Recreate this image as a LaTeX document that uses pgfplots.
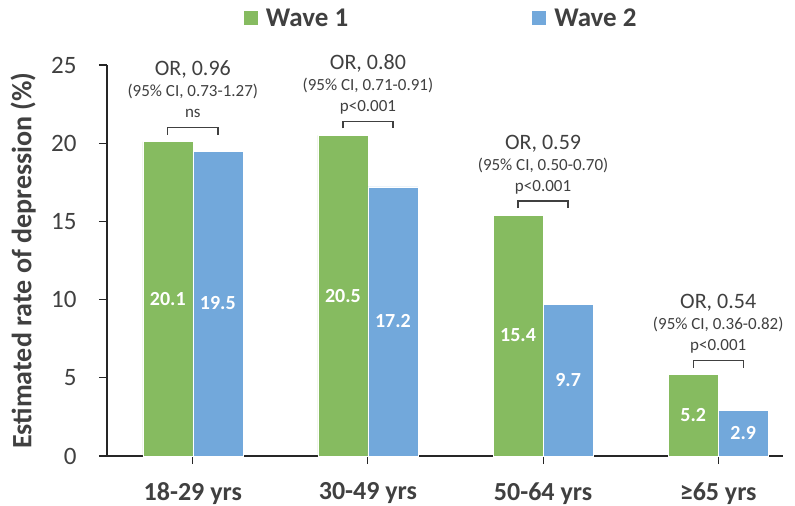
\documentclass[border=0pt]{standalone}
\usepackage{pgfplots}
\pgfplotsset{compat=1.18}
\usepackage{fontspec}
\setmainfont{Carlito}

\definecolor{wgreen}{HTML}{86BB60}
\definecolor{wblue}{HTML}{72A8DB}
\definecolor{txt}{HTML}{404040}

% bracket + three lines of text above a group: xl, xr, xc, green value, OR, CI, p
\newcommand{\annot}[7]{%
  \draw[txt, line width=1.3bp] ([yshift=7bp]axis cs:#1,#4) -- ([yshift=14bp]axis cs:#1,#4)
    -- ([yshift=14bp]axis cs:#2,#4) -- ([yshift=7bp]axis cs:#2,#4);
  \node[anchor=base, text=txt, inner sep=0pt, font=\fontsize{17bp}{17bp}\selectfont]
    at ([yshift=24bp]axis cs:#3,#4) {#7};
  \node[anchor=base, text=txt, inner sep=0pt, font=\fontsize{17bp}{17bp}\selectfont]
    at ([yshift=45bp]axis cs:#3,#4) {#6};
  \node[anchor=base, text=txt, inner sep=0pt, font=\fontsize{22bp}{22bp}\selectfont]
    at ([yshift=66bp]axis cs:#3,#4) {#5};
}

\begin{document}
\begin{tikzpicture}
\useasboundingbox (0,0) rectangle (795bp,506bp);
\begin{axis}[
    at={(107bp,50bp)}, anchor=south west,
    scale only axis, width=676bp, height=391bp,
    clip=false,
    ybar=0pt, bar width=50bp,
    xmin=-0.49, xmax=3.37, ymin=0, ymax=25,
    xtick=data,
    xticklabels={18-29 yrs,30-49 yrs,50-64 yrs,≥65 yrs},
    ytick={0,5,10,15,20,25},
    axis x line*=bottom, axis y line*=left,
    tick align=outside, major tick length=8bp,
    tick style={black!85, line width=1.1bp},
    axis line style={black!85, line width=1.3bp},
    /pgf/number format/assume math mode=true,
    yticklabel style={font=\fontsize{25bp}{25bp}\selectfont, text=txt, xshift=-19bp},
    xticklabel style={font=\bfseries\fontsize{26bp}{26bp}\selectfont, text=txt, yshift=-15bp},
    ylabel={Estimated rate of depression (\%)},
    ylabel style={at={(axis description cs:-0.105,0.5)}, anchor=south, inner sep=0pt,
        font=\bfseries\fontsize{28bp}{28bp}\selectfont, text=txt},
    visualization depends on=rawy \as \rawy,
    nodes near coords={\pgfmathprintnumber[fixed,fixed zerofill,precision=1]{\pgfplotspointmeta}},
    nodes near coords align={center},
    every node near coord/.append style={font=\bfseries\fontsize{20bp}{20bp}\selectfont,
        text=white, yshift=-7.82bp*\rawy},
    legend style={at={(0.493,1.12)}, anchor=center, draw=none, fill=none,
        legend columns=2, font=\bfseries\fontsize{27bp}{27bp}\selectfont, text=txt,
        nodes={inner sep=0pt},
        /tikz/every odd column/.append style={column sep=8bp},
        /tikz/every even column/.append style={column sep=184bp}},
    legend image code/.code={\fill[#1, draw=none] (0bp,-7bp) rectangle (14bp,7bp);},
]
\addplot[fill=wgreen, draw=white, line width=0.6bp]
    coordinates {(0,20.1) (1,20.5) (2,15.4) (3,5.2)};
\addplot[fill=wblue, draw=white, line width=0.6bp]
    coordinates {(0,19.5) (1,17.2) (2,9.7) (3,2.9)};
\legend{Wave 1, Wave 2}

\annot{-0.143}{0.143}{0}{20.1}{OR, 0.96}{(95\% CI, 0.73-1.27)}{ns}
\annot{0.857}{1.143}{1}{20.5}{OR, 0.80}{(95\% CI, 0.71-0.91)}{p<0.001}
\annot{1.857}{2.143}{2}{15.4}{OR, 0.59}{(95\% CI, 0.50-0.70)}{p<0.001}
\annot{2.857}{3.143}{3}{5.2}{OR, 0.54}{(95\% CI, 0.36-0.82)}{p<0.001}
\end{axis}
\end{tikzpicture}
\end{document}
